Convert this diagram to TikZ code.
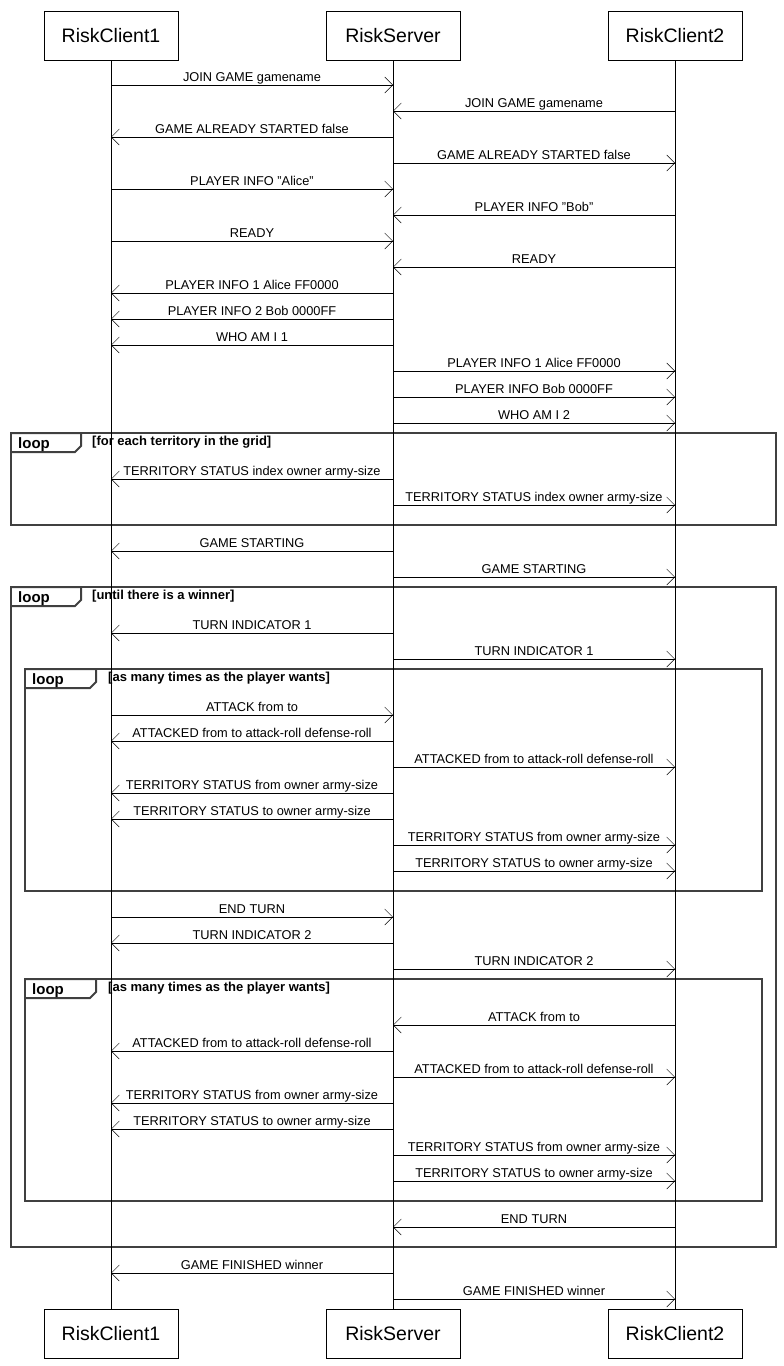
\documentclass[tikz,border=0pt]{standalone}
\usepackage{fontspec}
\setmainfont{Liberation Sans}
\usepackage{tikz}
\usetikzlibrary{positioning, arrows.meta}

\tikzset{
  actor/.style={rectangle, draw, minimum width=134pt, minimum height=49pt, font=\fontsize{19.5}{22}\selectfont},
  msg/.style={-{Straight Barb[length=8pt, width=16pt]}},
  lbl/.style={anchor=base, yshift=3.5pt, inner sep=0pt, font=\fontsize{12.8}{14}\selectfont},
  frame/.style={line width=2pt, draw=black!75},
  cond/.style={anchor=base west, inner sep=0pt, font=\bfseries\fontsize{13}{15}\selectfont},
  looptag/.style={anchor=base west, inner sep=0pt, font=\bfseries\fontsize{15}{17}\selectfont}
}

\begin{document}
\begin{tikzpicture}[x=1pt, y=-1pt]
                \useasboundingbox (0,0) rectangle (784,1366);

                % frames
                \draw[frame] (11,433) rectangle (776,525);
                \draw[frame] (11,433) -| (81,446) -- (75,452) -- (11,452);
                \node[looptag] (tag1) at (18,448) {loop};
                \node[cond] (cond1) at (92,445) {[for each territory in the grid]};

                \draw[frame] (11,587) rectangle (776,1247);
                \draw[frame] (11,587) -| (81,600) -- (75,606) -- (11,606);
                \node[looptag] (tag2) at (18,602) {loop};
                \node[cond] (cond2) at (92,599) {[until there is a winner]};

                \draw[frame] (25,669) rectangle (762,891);
                \draw[frame] (25,669) -| (96,682) -- (90,688) -- (25,688);
                \node[looptag] (tag3) at (32,684) {loop};
                \node[cond] (cond3) at (108,681) {[as many times as the player wants]};

                \draw[frame] (25,979) rectangle (762,1201);
                \draw[frame] (25,979) -| (96,992) -- (90,998) -- (25,998);
                \node[looptag] (tag4) at (32,994) {loop};
                \node[cond] (cond4) at (108,991) {[as many times as the player wants]};

                % participants
                \node[actor] (c1) at (111, 35.5) {RiskClient1};
                \node[actor] (srv) at (393, 35.5) {RiskServer};
                \node[actor] (c2) at (675, 35.5) {RiskClient2};
                \node[actor] (c1b) at (111, 1334) {RiskClient1};
                \node[actor] (srvb) at (393, 1334) {RiskServer};
                \node[actor] (c2b) at (675, 1334) {RiskClient2};

                \draw (c1) -- (c1b);
                \draw (srv) -- (srvb);
                \draw (c2) -- (c2b);

                % setup
                \draw[msg] (c1 |- 0,85) -- node[lbl] {JOIN GAME gamename} (srv |- 0,85);
                \draw[msg] (c2 |- 0,111) -- node[lbl] {JOIN GAME gamename} (srv |- 0,111);
                \draw[msg] (srv |- 0,137) -- node[lbl] {GAME ALREADY STARTED false} (c1 |- 0,137);
                \draw[msg] (srv |- 0,163) -- node[lbl] {GAME ALREADY STARTED false} (c2 |- 0,163);
                \draw[msg] (c1 |- 0,189) -- node[lbl] {PLAYER INFO "Alice"} (srv |- 0,189);
                \draw[msg] (c2 |- 0,215) -- node[lbl] {PLAYER INFO "Bob"} (srv |- 0,215);
                \draw[msg] (c1 |- 0,241) -- node[lbl] {READY} (srv |- 0,241);
                \draw[msg] (c2 |- 0,267) -- node[lbl] {READY} (srv |- 0,267);
                \draw[msg] (srv |- 0,293) -- node[lbl] {PLAYER INFO 1 Alice FF0000} (c1 |- 0,293);
                \draw[msg] (srv |- 0,319) -- node[lbl] {PLAYER INFO 2 Bob 0000FF} (c1 |- 0,319);
                \draw[msg] (srv |- 0,345) -- node[lbl] {WHO AM I 1} (c1 |- 0,345);
                \draw[msg] (srv |- 0,371) -- node[lbl] {PLAYER INFO 1 Alice FF0000} (c2 |- 0,371);
                \draw[msg] (srv |- 0,397) -- node[lbl] {PLAYER INFO Bob 0000FF} (c2 |- 0,397);
                \draw[msg] (srv |- 0,423) -- node[lbl] {WHO AM I 2} (c2 |- 0,423);

                % territories
                \draw[msg] (srv |- 0,479) -- node[lbl] {TERRITORY STATUS index owner army-size} (c1 |- 0,479);
                \draw[msg] (srv |- 0,505) -- node[lbl] {TERRITORY STATUS index owner army-size} (c2 |- 0,505);
                \draw[msg] (srv |- 0,551) -- node[lbl] {GAME STARTING} (c1 |- 0,551);
                \draw[msg] (srv |- 0,577) -- node[lbl] {GAME STARTING} (c2 |- 0,577);

                % turn of client 1
                \draw[msg] (srv |- 0,633) -- node[lbl] {TURN INDICATOR 1} (c1 |- 0,633);
                \draw[msg] (srv |- 0,659) -- node[lbl] {TURN INDICATOR 1} (c2 |- 0,659);
                \draw[msg] (c1 |- 0,715) -- node[lbl] {ATTACK from to} (srv |- 0,715);
                \draw[msg] (srv |- 0,741) -- node[lbl] {ATTACKED from to attack-roll defense-roll} (c1 |- 0,741);
                \draw[msg] (srv |- 0,767) -- node[lbl] {ATTACKED from to attack-roll defense-roll} (c2 |- 0,767);
                \draw[msg] (srv |- 0,793) -- node[lbl] {TERRITORY STATUS from owner army-size} (c1 |- 0,793);
                \draw[msg] (srv |- 0,819) -- node[lbl] {TERRITORY STATUS to owner army-size} (c1 |- 0,819);
                \draw[msg] (srv |- 0,845) -- node[lbl] {TERRITORY STATUS from owner army-size} (c2 |- 0,845);
                \draw[msg] (srv |- 0,871) -- node[lbl] {TERRITORY STATUS to owner army-size} (c2 |- 0,871);
                \draw[msg] (c1 |- 0,917) -- node[lbl] {END TURN} (srv |- 0,917);

                % turn of client 2
                \draw[msg] (srv |- 0,943) -- node[lbl] {TURN INDICATOR 2} (c1 |- 0,943);
                \draw[msg] (srv |- 0,969) -- node[lbl] {TURN INDICATOR 2} (c2 |- 0,969);
                \draw[msg] (c2 |- 0,1025) -- node[lbl] {ATTACK from to} (srv |- 0,1025);
                \draw[msg] (srv |- 0,1051) -- node[lbl] {ATTACKED from to attack-roll defense-roll} (c1 |- 0,1051);
                \draw[msg] (srv |- 0,1077) -- node[lbl] {ATTACKED from to attack-roll defense-roll} (c2 |- 0,1077);
                \draw[msg] (srv |- 0,1103) -- node[lbl] {TERRITORY STATUS from owner army-size} (c1 |- 0,1103);
                \draw[msg] (srv |- 0,1129) -- node[lbl] {TERRITORY STATUS to owner army-size} (c1 |- 0,1129);
                \draw[msg] (srv |- 0,1155) -- node[lbl] {TERRITORY STATUS from owner army-size} (c2 |- 0,1155);
                \draw[msg] (srv |- 0,1181) -- node[lbl] {TERRITORY STATUS to owner army-size} (c2 |- 0,1181);
                \draw[msg] (c2 |- 0,1227) -- node[lbl] {END TURN} (srv |- 0,1227);

                % end
                \draw[msg] (srv |- 0,1273) -- node[lbl] {GAME FINISHED winner} (c1 |- 0,1273);
                \draw[msg] (srv |- 0,1299) -- node[lbl] {GAME FINISHED winner} (c2 |- 0,1299);
            \end{tikzpicture}
\end{document}
